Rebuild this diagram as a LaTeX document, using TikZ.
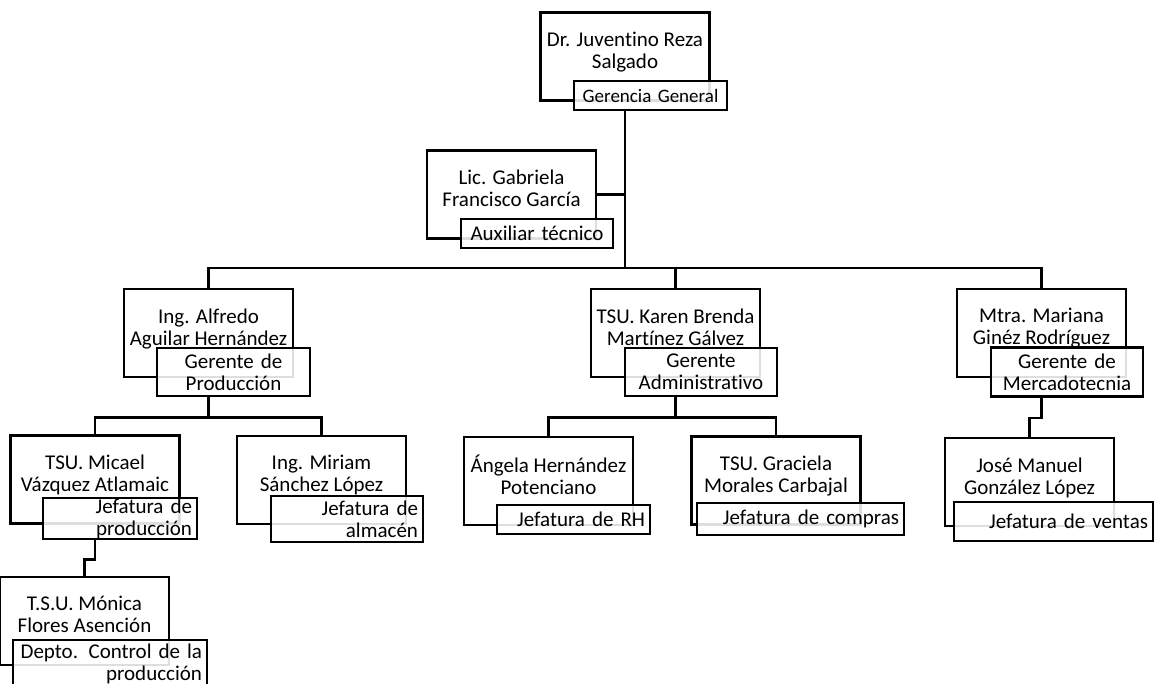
\documentclass[tikz,border=0pt]{standalone}
\usepackage{fontspec}
\setmainfont{Carlito}[Ligatures={NoCommon}]
\begin{document}
\begin{tikzpicture}[x=1pt,y=-1pt,
  namebox/.style={draw, line width=2.6pt, minimum width=169pt, minimum height=88pt,
    inner sep=0pt, align=center, font=\fontsize{21}{22}\selectfont, text depth=12.5pt},
  labbox/.style={draw, line width=2.6pt, fill=white, fill opacity=0.87, text opacity=1,
    inner ysep=0pt, font=\fontsize{21}{22}\selectfont},
  labc/.style={labbox, inner xsep=4pt, align=center},
  labr/.style={labbox, inner xsep=5pt, align=right},
  conn/.style={line width=2.6pt}]
\useasboundingbox (0,0) rectangle (1155,683);

% name boxes
\node[namebox] (jrs) at (625,56.5) {Dr. Juventino Reza\\Salgado};
\node[namebox] (gfg) at (511.5,194.5) {Lic. Gabriela\\Francisco García};
\node[namebox] (aah) at (208.5,333) {Ing. Alfredo\\Aguilar Hernández};
\node[namebox] (kbm) at (675.5,333) {TSU. Karen Brenda\\Martínez Gálvez};
\node[namebox] (mgr) at (1041.5,333) {Mtra. Mariana\\Ginéz Rodríguez};
\node[namebox] (mva) at (95,479.5) {TSU. Micael\\Vázquez Atlamaic};
\node[namebox] (msl) at (321.5,480) {Ing. Miriam\\Sánchez López};
\node[namebox] (ahp) at (548.5,481) {Ángela Hernández\\Potenciano};
\node[namebox] (gmc) at (776,480.5) {TSU. Graciela\\Morales Carbajal};
\node[namebox] (jmg) at (1029.5,482) {José Manuel\\González López};
\node[namebox] (mfa) at (84.5,621) {T.S.U. Mónica\\Flores Asención};

% labels
\node[labc, text width=145pt, minimum height=29pt, font=\fontsize{19}{22}\selectfont] (L1) at (650.5,95.5) {Gerencia General};
\node[labc, text width=144pt, minimum height=29pt] (L2) at (537,233.5) {Auxiliar técnico};
\node[labc, text width=145pt, minimum height=48pt] (L3) at (233.5,372) {Gerente de\\Producción};
\node[labc, text width=144pt, minimum height=48pt] (L4) at (701,372) {Gerente\\Administrativo};
\node[labc, text width=144pt, minimum height=49pt] (L5) at (1067,372) {Gerente de\\Mercadotecnia};
\node[labr, text width=144pt, minimum height=41pt] (L6) at (120,518.5) {Jefatura de\\producción};
\node[labr, text width=142pt, minimum height=46pt] (L7) at (347,519) {Jefatura de\\almacén};
\node[labr, text width=143pt, minimum height=29pt] (L8) at (573.5,519.5) {Jefatura de RH};
\node[labr, text width=197pt, minimum height=32pt] (L9) at (800.5,519) {Jefatura de compras};
\node[labr, text width=189pt, minimum height=39pt] (L10) at (1053.5,521.5) {Jefatura de ventas};
\node[labr, text width=184pt, minimum height=48pt] (L11) at (110,664) {Depto. Control de la\\producción};

% connectors
\coordinate (bus) at (625,268);
\draw[conn] (L1.south -| jrs.center) -- (bus);
\draw[conn] (gfg.east) -- (gfg.east -| bus);
\draw[conn] (bus) -| (aah.north);
\draw[conn] (bus) -| (kbm.north);
\draw[conn] (bus) -| (mgr.north);

\draw[conn] (L3.south -| aah.center) -- ++(0,20) coordinate (aahb);
\draw[conn] (aahb) -| (mva.north);
\draw[conn] (aahb) -| (msl.north);

\draw[conn] (L4.south -| kbm.center) -- ++(0,20) coordinate (kbmb);
\draw[conn] (kbmb) -| (ahp.north);
\draw[conn] (kbmb) -| (gmc.north);

\draw[conn] (L5.south -| mgr.center) -- ++(0,20) -| (jmg.north);
\draw[conn] (L6.south -| mva.center) -- ++(0,19) -| (mfa.north);
\end{tikzpicture}
\end{document}
